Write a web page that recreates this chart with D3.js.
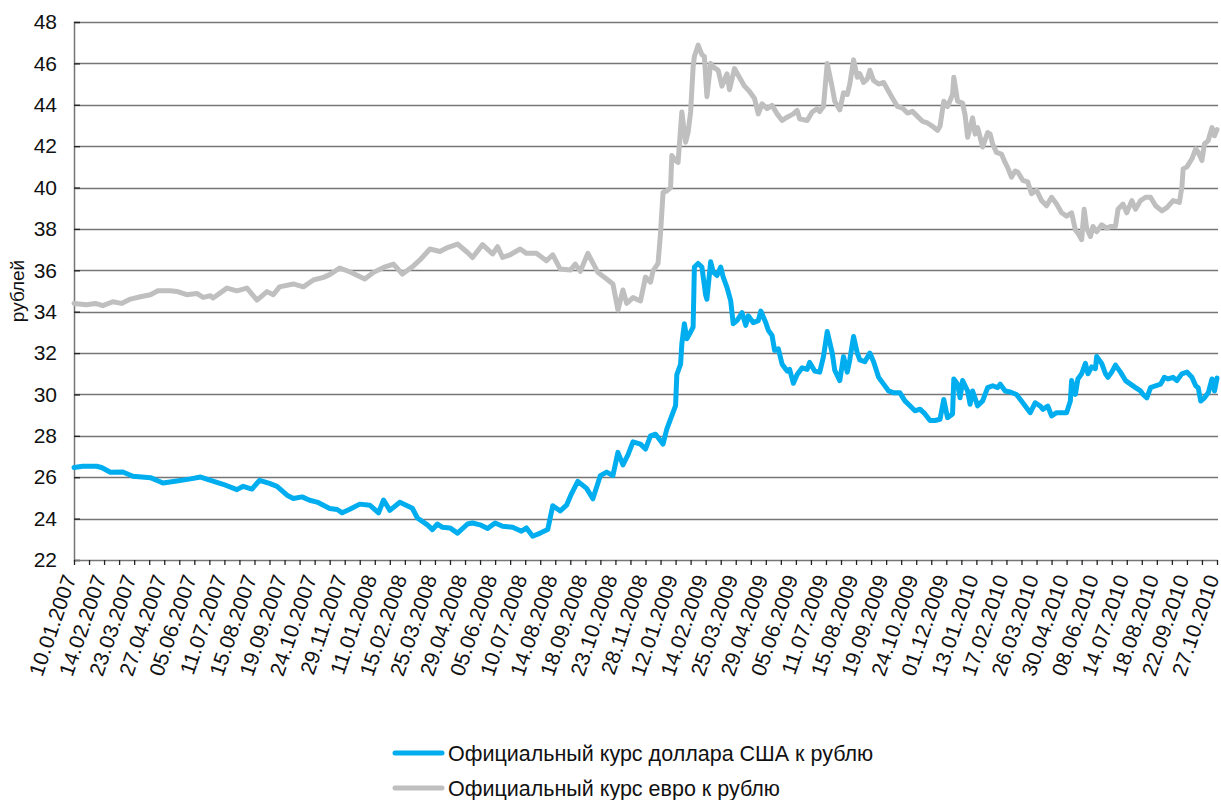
<!DOCTYPE html>
<html>
<head>
<meta charset="utf-8">
<script src="https://cdn.jsdelivr.net/npm/d3@7/dist/d3.min.js"></script>
<style>
  html, body { margin: 0; padding: 0; background: #fff; }
  svg { display: block; font-family: "Liberation Sans", Arial, Helvetica, sans-serif; }
</style>
</head>
<body>
<svg id="chart" width="1221" height="800"></svg>
<script>
// ---- DATA ----
// Category (trading-day) axis labels, one every 24 trading days
const dateLabels = ["10.01.2007","14.02.2007","23.03.2007","27.04.2007","05.06.2007","11.07.2007","15.08.2007","19.09.2007","24.10.2007","29.11.2007","11.01.2008","15.02.2008","25.03.2008","29.04.2008","05.06.2008","10.07.2008","14.08.2008","18.09.2008","23.10.2008","28.11.2008","12.01.2009","14.02.2009","25.03.2009","29.04.2009","05.06.2009","11.07.2009","15.08.2009","19.09.2009","24.10.2009","01.12.2009","13.01.2010","17.02.2010","26.03.2010","30.04.2010","08.06.2010","14.07.2010","18.08.2010","22.09.2010","27.10.2010"];
const yTicks = [22,24,26,28,30,32,34,36,38,40,42,44,46,48];
const seriesNames = ["Официальный курс доллара США к рублю", "Официальный курс евро к рублю"];

// USD/RUB: trading-day number (0 = 10.01.2007) and rate
const usdDay = [0,7,18,22,29,39,47,61,71,82,93,101,109,119,130,135,142,148,156,162,170,175,182,188,194,204,210,214,220,228,236,243,247,252,260,270,274,282,286,290,294,300,306,314,318,324,330,336,342,350,357,361,366,372,378,382,388,393,397,402,409,414,420,425,430,434,438,442,446,452,456,460,464,468,470,473,477,480,481,484,485,487,489,492,494,495,498,501,504,505,508,510,513,516,518,521,524,526,529,533,536,538,542,546,548,552,554,557,559,562,565,569,571,574,577,581,585,587,591,595,598,601,605,607,611,614,617,619,622,625,627,631,635,638,642,646,650,654,659,663,667,671,675,679,683,687,691,694,697,701,702,705,707,709,713,715,717,721,725,729,733,737,739,743,747,752,756,760,763,767,771,773,777,780,784,788,792,795,796,799,801,804,807,809,812,815,816,820,823,825,828,831,835,839,843,847,851,853,856,859,863,867,870,873,877,880,884,888,892,895,897,899,902,905,908,910,912];
const usdRate = [26.47,26.53,26.53,26.47,26.24,26.25,26.05,25.98,25.72,25.82,25.92,26.01,25.85,25.66,25.4,25.56,25.43,25.85,25.7,25.56,25.13,24.97,25.05,24.89,24.8,24.49,24.44,24.28,24.45,24.7,24.65,24.28,24.9,24.4,24.79,24.5,24.03,23.7,23.47,23.74,23.58,23.55,23.3,23.74,23.79,23.7,23.52,23.79,23.63,23.58,23.39,23.55,23.15,23.3,23.47,24.62,24.37,24.65,25.21,25.8,25.46,24.96,26.08,26.25,26.08,27.2,26.6,27.08,27.71,27.6,27.36,28.0,28.08,27.76,27.6,28.33,28.98,29.46,30.96,31.46,32.45,33.42,32.69,33.02,33.26,36.16,36.33,36.16,34.8,34.6,36.41,35.92,35.75,36.16,35.67,35.18,34.52,33.42,33.57,33.95,33.34,33.8,33.47,33.57,34.03,33.47,33.1,32.85,32.13,32.21,31.46,31.13,31.21,30.54,30.96,31.29,31.21,31.55,31.13,31.08,31.83,33.04,32.0,31.17,30.67,31.83,31.08,31.67,32.8,32.0,31.67,31.58,32.0,31.58,30.83,30.5,30.17,30.08,30.08,29.69,29.45,29.21,29.29,29.06,28.74,28.74,28.8,29.76,28.88,29.06,30.75,30.5,29.84,30.67,30.17,29.53,30.17,29.45,29.69,30.33,30.42,30.33,30.5,30.17,30.12,30.0,29.68,29.36,29.12,29.6,29.44,29.28,29.44,28.96,29.12,29.12,29.12,29.68,30.67,30.0,30.75,31.0,31.5,31.0,31.33,31.25,31.83,31.5,31.0,30.83,31.08,31.42,31.08,30.67,30.5,30.33,30.17,30.0,29.84,30.33,30.42,30.5,30.83,30.75,30.83,30.67,31.0,31.08,30.83,30.42,30.33,29.68,29.84,30.08,30.75,30.17,30.8];

// EUR/RUB: trading-day number and rate
const eurDay = [0,10,17,23,31,38,45,53,61,67,77,82,90,98,103,109,111,122,130,138,142,146,154,159,164,175,183,191,199,204,212,220,232,239,247,255,262,270,276,284,292,298,306,314,318,326,334,338,342,348,356,361,369,377,382,388,396,400,404,410,418,425,430,434,438,441,446,452,456,460,462,466,468,470,473,476,477,480,482,485,488,490,492,494,495,498,501,503,505,508,510,514,517,521,523,527,531,535,539,543,546,549,553,557,561,565,569,574,577,579,585,589,593,595,598,601,605,607,611,614,617,619,622,625,627,630,633,635,638,642,646,649,653,657,661,665,669,673,677,681,685,689,691,694,697,701,702,705,709,711,713,717,719,721,725,729,731,733,736,740,743,745,748,751,753,757,761,764,768,772,776,780,784,788,792,796,799,801,804,806,808,811,813,816,820,824,827,831,833,837,840,844,847,851,855,859,863,868,872,877,882,884,885,888,892,895,897,900,902,905,908,910,912];
const eurRate = [34.4,34.34,34.4,34.29,34.48,34.4,34.61,34.72,34.82,35.01,35.01,34.98,34.82,34.88,34.69,34.77,34.66,35.14,35.01,35.14,34.85,34.56,34.97,34.82,35.2,35.34,35.2,35.53,35.66,35.79,36.11,35.93,35.58,35.9,36.14,36.3,35.82,36.17,36.5,37.03,36.91,37.1,37.27,36.86,36.62,37.24,36.79,37.14,36.62,36.75,37.03,36.82,36.82,36.46,36.75,36.06,36.01,36.3,35.95,36.82,35.9,35.58,35.34,34.08,35.05,34.4,34.68,34.52,35.67,35.43,35.97,36.33,37.8,39.76,39.84,40.0,41.55,41.3,41.22,43.65,42.19,42.68,43.65,45.83,46.33,46.88,46.42,46.33,44.39,46.0,45.83,45.66,44.9,45.5,44.73,45.75,45.32,44.9,44.64,44.3,43.56,44.05,43.81,43.97,43.56,43.24,43.4,43.56,43.73,43.32,43.24,43.65,43.81,43.67,43.92,46.0,44.83,44.17,43.75,44.58,44.5,45.0,46.17,45.33,45.5,45.08,45.25,45.67,45.17,45.0,45.08,44.75,44.33,43.92,43.84,43.6,43.68,43.44,43.2,43.12,42.96,42.76,42.96,44.17,43.92,44.5,45.33,44.17,44.08,43.5,42.43,43.37,42.58,42.9,41.96,42.66,42.58,42.1,41.7,41.62,41.2,40.96,40.5,40.8,40.75,40.35,40.27,39.7,39.87,39.37,39.12,39.53,39.2,38.78,38.62,38.78,37.95,37.8,37.48,38.95,38.03,37.63,38.12,37.87,38.2,38.03,38.12,38.12,38.95,39.2,38.78,39.37,38.95,39.37,39.53,39.53,39.12,38.87,39.03,39.37,39.28,40.03,40.9,41.0,41.39,41.87,41.71,41.31,42.11,42.27,42.9,42.5,42.8];
const colors = ["#00AEEF", "#BFBFBF"];

// ---- LAYOUT ----
const svg = d3.select("#chart");
const plotLeft = 74, plotRight = 1217, plotTop = 22, plotBottom = 560;
const labelEvery = 24, tickEvery = 12;
const lastIdx = (dateLabels.length - 1) * labelEvery;

const x = d3.scaleLinear().domain([0, lastIdx]).range([plotLeft, plotRight]);
const y = d3.scaleLinear().domain([22, 48]).range([plotBottom, plotTop]);

// gridlines
svg.append("g").selectAll("line").data(yTicks.filter(v => v > 22)).join("line")
  .attr("x1", plotLeft).attr("x2", plotRight + 1)
  .attr("y1", d => Math.round(y(d)) + 0.5).attr("y2", d => Math.round(y(d)) + 0.5)
  .attr("stroke", "#767676").attr("stroke-width", 1.3);

// y axis
const yAxis = svg.append("g").attr("transform", `translate(${plotLeft},0)`)
  .call(d3.axisLeft(y).tickValues(yTicks).tickSize(-6).tickPadding(17).tickFormat(d3.format("d")));
yAxis.select(".domain").attr("stroke", "#767676").attr("stroke-width", 1.5);
yAxis.selectAll(".tick line").attr("stroke", "#222").attr("stroke-width", 1.3);
yAxis.selectAll(".tick text").attr("font-size", 21).attr("fill", "#111")
  .attr("font-family", "'Liberation Sans', Arial, sans-serif");

// x axis
const xTickVals = d3.range(0, lastIdx + 1, tickEvery);
const xAxis = svg.append("g").attr("transform", `translate(0,${plotBottom})`)
  .call(d3.axisBottom(x).tickValues(xTickVals).tickSize(5).tickSizeOuter(0)
    .tickFormat(d => d % labelEvery === 0 ? dateLabels[d / labelEvery] : ""));
xAxis.select(".domain").attr("stroke", "#767676").attr("stroke-width", 1.5);
xAxis.selectAll(".tick line").attr("stroke", "#222").attr("stroke-width", 1.3);
xAxis.selectAll(".tick text")
  .attr("font-size", 21).attr("fill", "#111")
  .attr("font-family", "'Liberation Sans', Arial, sans-serif")
  .attr("text-anchor", "end")
  .attr("dy", "0.3em")
  .attr("transform", "translate(-4,16) rotate(-71)")
  .attr("y", 0).attr("x", 0);

// y axis title
svg.append("text")
  .attr("transform", `translate(24,${(plotTop + plotBottom) / 2}) rotate(-90)`)
  .attr("text-anchor", "middle").attr("font-size", 19).attr("fill", "#111")
  .text("рублей");

// lines
const line = d3.line().x(d => x(d[0])).y(d => y(d[1])).curve(d3.curveLinear);
const series = [d3.zip(usdDay, usdRate), d3.zip(eurDay, eurRate)];
[1, 0].forEach(j => {
  svg.append("path").datum(series[j])
    .attr("d", line)
    .attr("fill", "none")
    .attr("stroke", colors[j])
    .attr("stroke-width", 5)
    .attr("stroke-linejoin", "round")
    .attr("stroke-linecap", "round");
});

// legend
const legend = svg.append("g");
seriesNames.forEach((name, i) => {
  const ly = 753 + i * 35;
  legend.append("line").attr("x1", 395).attr("x2", 442).attr("y1", ly).attr("y2", ly)
    .attr("stroke", colors[i]).attr("stroke-width", 5).attr("stroke-linecap", "round");
  legend.append("text").attr("x", 448).attr("y", ly).attr("dy", "0.35em")
    .attr("font-size", 21.5).attr("fill", "#111").text(name);
});
</script>
</body>
</html>
